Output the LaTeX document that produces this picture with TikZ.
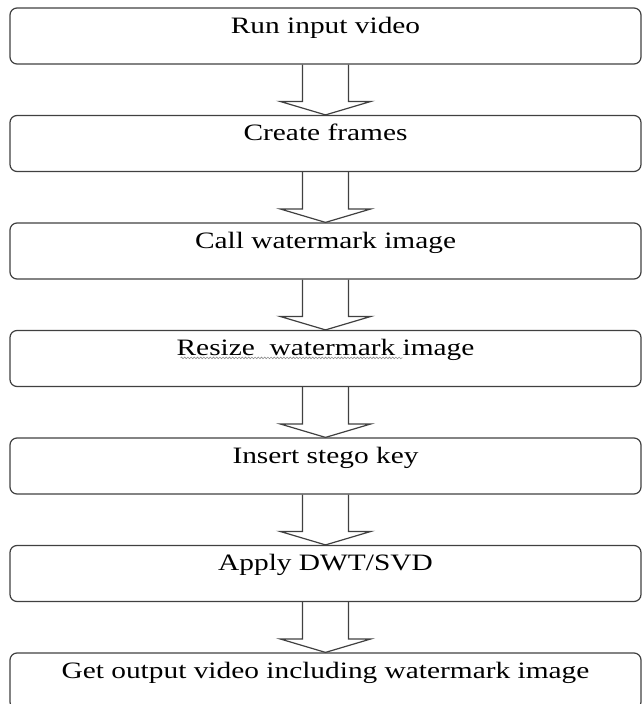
\documentclass[tikz,border=0pt]{standalone}
\usepackage{fontspec}
\setmainfont{Liberation Serif}[FakeStretch=1.25]
\usetikzlibrary{positioning,calc,decorations.pathmorphing}

\begin{document}
\begin{tikzpicture}
            [font=\fontsize{23.5}{28}\selectfont,
            node distance=50.3pt,
            stepbox/.style={draw=black!75, line width=1.2pt, rounded corners=7pt,
                minimum width=631pt, inner sep=0pt, text height=25pt, text depth=31pt},
            % hollow block arrow from one box down to the next
            blockarrow/.style={draw=black!75, line width=1.2pt, to path={
                ($(\tikztostart)+(-23pt,0)$) |- ($(\tikztotarget)+(-45.5pt,13.5pt)$)
                -- (\tikztotarget) -- ($(\tikztotarget)+(45.5pt,13.5pt)$)
                -| ($(\tikztostart)+(23pt,0)$)}},
            squiggle/.style={draw=black!45, line width=0.6pt,
                decorate, decoration={snake, amplitude=0.8pt, segment length=3.2pt}}]
            \useasboundingbox (0,0) rectangle (643pt,-704pt);
            \node [stepbox] (run) at (325.5pt,-36pt) {Run input video};
            \node [stepbox, below=of run] (frames) {Create frames};
            \node [stepbox, below=of frames] (callwm) {Call watermark image};
            \node [stepbox, below=of callwm] (resize) {Resize\ \ watermark image};
            \node [stepbox, below=of resize] (stego) {Insert stego key};
            \node [stepbox, below=of stego] (dwtsvd) {Apply DWT/SVD};
            \node [stepbox, below=of dwtsvd] (output) {Get output video including watermark image};
            % spell-check underline
            \draw [squiggle] ($(resize.north)+(-145pt,-28pt)$) -- ($(resize.north)+(77pt,-28pt)$);
            \draw [blockarrow] (run.south) to (frames.north);
            \draw [blockarrow] (frames.south) to (callwm.north);
            \draw [blockarrow] (callwm.south) to (resize.north);
            \draw [blockarrow] (resize.south) to (stego.north);
            \draw [blockarrow] (stego.south) to (dwtsvd.north);
            \draw [blockarrow] (dwtsvd.south) to (output.north);
\end{tikzpicture}
\end{document}
